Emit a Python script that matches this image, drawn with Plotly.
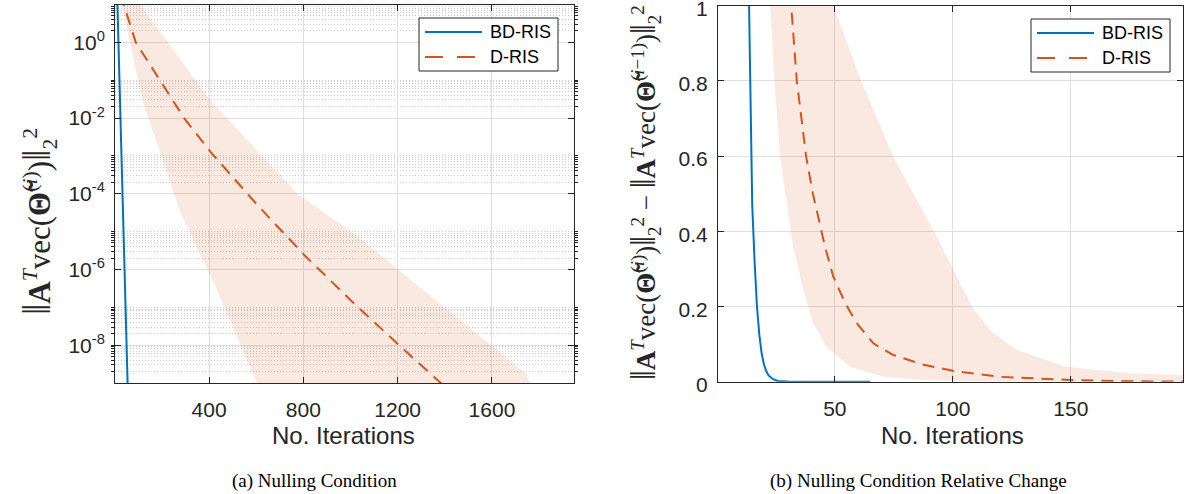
import plotly.graph_objects as go

W, H = 1185, 494

# ---------------- (a) Nulling Condition (log scale) ----------------
bd_a_iter = [1, 11, 22, 32, 43, 53, 60]
bd_a_val = [2.4e3, 1e1, 2.4e-2, 1e-4, 2.4e-7, 1e-9, 5e-11]

d_a_iter = [1, 38, 89, 294, 407, 612, 810, 1015, 1213, 1383, 1500]
d_a_val = [6e1, 1e1, 1e0, 1e-2, 1.26e-3, 4.5e-5, 2.2e-6, 1.26e-7, 9.1e-9, 1e-9, 2.5e-10]

d_a_up_iter = [1, 108, 405, 774, 1014, 1742, 1763, 1900]
d_a_up_val = [3.2e2, 1e1, 2.95e-2, 1.02e-4, 8.9e-6, 1.82e-9, 1e-9, 2e-10]

d_a_lo_iter = [1, 30, 117, 280, 421, 591, 602, 700]
d_a_lo_val = [3.2e1, 1e1, 2.95e-2, 3.0e-5, 4.3e-7, 1.48e-9, 1e-9, 3.2e-11]

a_xticks = [400, 800, 1200, 1600]
a_yticks = [1e-8, 1e-6, 1e-4, 1e-2, 1e0]
a_yticktext = ["10<sup>-8</sup>", "10<sup>-6</sup>", "10<sup>-4</sup>", "10<sup>-2</sup>", "10<sup>0</sup>"]
a_minor_decades = [-9, -8, -6, -4, -2, 0]

# ---------------- (b) Relative change (linear) ----------------
bd_b_iter = [1, 13, 14, 15, 16, 17, 18, 19, 20, 21, 22, 24, 26, 30, 40, 50, 65]
bd_b_val = [6.0, 1.25, 0.98, 0.47, 0.32, 0.2, 0.125, 0.075, 0.045, 0.027, 0.016, 0.006, 0.002, 0.0005, 0.0001, 0.0, 0.0]

d_b_iter = [1, 29, 31.5, 33.9, 37.8, 40.7, 45.8, 49.3, 54.3, 59.2, 66.3, 74.8, 87.6, 100, 120, 150, 177, 198]
d_b_val = [8.0, 1.3, 1.0, 0.8, 0.6, 0.5, 0.36, 0.28, 0.21, 0.156, 0.102, 0.071, 0.045, 0.029, 0.013, 0.0045, 0.001, 0.0005]

d_b_up_iter = [1, 40, 49.4, 61.2, 74.6, 85, 92, 100, 108, 116, 127, 148, 176, 198]
d_b_up_val = [8.0, 1.5, 1.0, 0.8, 0.6, 0.48, 0.4, 0.3, 0.2, 0.135, 0.085, 0.04, 0.022, 0.018]

d_b_lo_iter = [1, 20, 22.3, 24.4, 26.8, 29.4, 32.3, 36.6, 40.8, 46.5, 56.4, 70.6, 84.7, 110, 198]
d_b_lo_val = [8.0, 1.3, 1.0, 0.8, 0.6, 0.485, 0.36, 0.245, 0.156, 0.093, 0.04, 0.013, 0.005, 0.001, 0.0]

b_xticks = [50, 100, 150]
b_yticks = [0, 0.2, 0.4, 0.6, 0.8, 1]
b_yticktext = ["0", "0.2", "0.4", "0.6", "0.8", "1"]

series_names = ["BD-RIS", "D-RIS"]
BLUE = "#0072BD"
ORANGE = "#D95319"
BAND = "rgba(217,83,25,0.13)"
AX = "#262626"
FONT = "Liberation Sans"
SERIF = "Liberation Serif"
DASH = "12px,8px"

fig = go.Figure()

# band (a)
fig.add_trace(go.Scatter(
    x=d_a_up_iter + d_a_lo_iter[::-1], y=d_a_up_val + d_a_lo_val[::-1],
    fill="toself", fillcolor=BAND, line=dict(width=0), mode="lines",
    showlegend=False, hoverinfo="skip", xaxis="x", yaxis="y"))
fig.add_trace(go.Scatter(x=bd_a_iter, y=bd_a_val, mode="lines", name=series_names[0],
                         line=dict(color=BLUE, width=2), xaxis="x", yaxis="y", showlegend=False))
fig.add_trace(go.Scatter(x=d_a_iter, y=d_a_val, mode="lines", name=series_names[1],
                         line=dict(color=ORANGE, width=2, dash=DASH), xaxis="x", yaxis="y", showlegend=False))

# band (b)
fig.add_trace(go.Scatter(
    x=d_b_up_iter + d_b_lo_iter[::-1], y=d_b_up_val + d_b_lo_val[::-1],
    fill="toself", fillcolor=BAND, line=dict(width=0), mode="lines",
    showlegend=False, hoverinfo="skip", xaxis="x2", yaxis="y2"))
fig.add_trace(go.Scatter(x=bd_b_iter, y=bd_b_val, mode="lines", name=series_names[0],
                         line=dict(color=BLUE, width=2), xaxis="x2", yaxis="y2", showlegend=False))
fig.add_trace(go.Scatter(x=d_b_iter, y=d_b_val, mode="lines", name=series_names[1],
                         line=dict(color=ORANGE, width=2, dash=DASH), xaxis="x2", yaxis="y2", showlegend=False))

minor_vals = [m * 10.0 ** k for k in a_minor_decades for m in range(2, 11)]

common_axis = dict(showline=True, linecolor=AX, linewidth=1, mirror="ticks",
                   ticks="inside", ticklen=6, tickcolor=AX, tickwidth=1,
                   showgrid=True, gridcolor="#dedede", gridwidth=1, zeroline=False,
                   ticklabeloverflow="allow", automargin=False,
                   tickfont=dict(family=FONT, size=21, color=AX))

fig.update_layout(
    width=W, height=H, margin=dict(l=0, r=0, t=0, b=0, pad=0),
    paper_bgcolor="white", plot_bgcolor="white", showlegend=False,
    xaxis=dict(domain=[115 / W, 574 / W], anchor="y", range=[1, 1948],
               tickmode="array", tickvals=a_xticks, ticklabelstandoff=8, **common_axis),
    yaxis=dict(domain=[1 - 383 / H, 1 - 4.5 / H], anchor="x", type="log", range=[-9, 1],
               tickmode="array", tickvals=a_yticks, ticktext=a_yticktext, ticklabelstandoff=5,
               minor=dict(tickmode="array", tickvals=minor_vals, ticklen=3, tickcolor=AX,
                          showgrid=True, gridcolor="#cccccc", griddash="1px,2px", gridwidth=1),
               **common_axis),
    xaxis2=dict(domain=[718 / W, 1183 / W], anchor="y2", range=[0.5, 197.5],
                tickmode="array", tickvals=b_xticks, ticklabelstandoff=8, **common_axis),
    yaxis2=dict(domain=[1 - 381.7 / H, 1 - 5.7 / H], anchor="x2", range=[0, 1],
                tickmode="array", tickvals=b_yticks, ticktext=b_yticktext, ticklabelstandoff=5,
                ticklabelshift=3, **common_axis),
)

# ---- legends (drawn as boxes with line samples + labels) ----
legend_boxes = [(419, 18, 558, 71), (1031, 19, 1170, 72)]
legend_styles = [(BLUE, "solid"), (ORANGE, "18px,14px")]
shapes = []
annos = []
for (x0, y0, x1, y1) in legend_boxes:
    shapes.append(dict(type="rect", xref="paper", yref="paper",
                       x0=x0 / W, x1=x1 / W, y0=1 - y0 / H, y1=1 - y1 / H,
                       line=dict(color=AX, width=1), fillcolor="white", layer="above"))
    for i, (name, (col, dash)) in enumerate(zip(series_names, legend_styles)):
        yy = y0 + 14 + 25 * i
        shapes.append(dict(type="line", xref="paper", yref="paper",
                           x0=(x0 + 6) / W, x1=(x0 + 63) / W, y0=1 - yy / H, y1=1 - yy / H,
                           line=dict(color=col, width=2, dash=dash), layer="above"))
        annos.append(dict(text=name, x=(x0 + 69) / W, y=1 - yy / H, xanchor="left", yanchor="middle",
                          font=dict(family=FONT, size=18, color="black")))

BIG = '<span style="font-size:1.3em">‖</span>'
ytitle_a = (BIG + "<b>A</b><sup><i>T</i></sup>vec(<b>Θ̃</b><sup>(<i>i</i>)</sup>)" + BIG +
            "<sub>2</sub><sup>2</sup>")
ytitle_b = (BIG + "<b>A</b><sup><i>T</i></sup>vec(<b>Θ̃</b><sup>(<i>i</i>)</sup>)" + BIG +
            "<sub>2</sub><sup>2</sup> − " +
            BIG + "<b>A</b><sup><i>T</i></sup>vec(<b>Θ̃</b><sup>(<i>i</i>−1)</sup>)" + BIG +
            "<sub>2</sub><sup>2</sup>")

annos += [
    dict(text=ytitle_a, x=38 / W, y=1 - 222 / H, textangle=-90, font=dict(family=SERIF, size=31, color=AX)),
    dict(text=ytitle_b, x=645 / W, y=1 - 193 / H, textangle=-90, font=dict(family=SERIF, size=27, color=AX)),
    dict(text="No. Iterations", x=344 / W, y=1 - 435 / H, font=dict(family=FONT, size=24, color=AX)),
    dict(text="No. Iterations", x=952 / W, y=1 - 435 / H, font=dict(family=FONT, size=24, color=AX)),
    dict(text="(a) Nulling Condition", x=314 / W, y=1 - 481 / H, font=dict(family=SERIF, size=19, color="black")),
    dict(text="(b) Nulling Condition Relative Change", x=918 / W, y=1 - 481 / H,
         font=dict(family=SERIF, size=19, color="black")),
]
for a in annos:
    a.update(xref="paper", yref="paper", showarrow=False)
    a.setdefault("xanchor", "center")
    a.setdefault("yanchor", "middle")
fig.update_layout(annotations=annos, shapes=shapes)

fig.write_html("out.html")
